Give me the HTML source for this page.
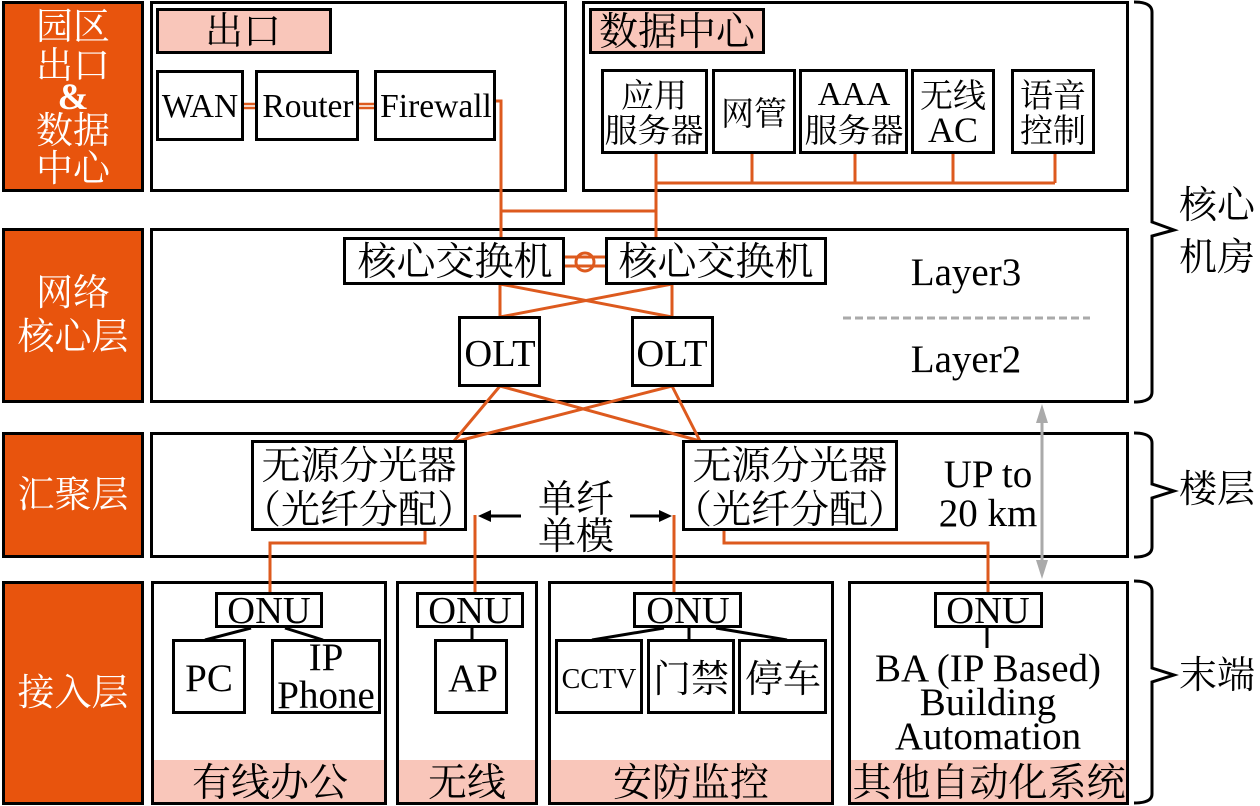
<!DOCTYPE html>
<html>
<head>
<meta charset="utf-8">
<style>
html,body{margin:0;padding:0;background:#fff;}
svg{display:block;}
text{font-family:"Liberation Serif","Noto Serif CJK SC",serif;text-anchor:middle;fill:#000;}
.w{fill:#fff;}
.b{fill:#fff;stroke:#000;stroke-width:3;}
.o{fill:#e8540d;stroke:#000;stroke-width:3;}
.p{fill:#f9c6ba;stroke:#000;stroke-width:3;}
.l{stroke:#dd5a1e;stroke-width:3;fill:none;}
.k{stroke:#000;stroke-width:3;fill:none;}
</style>
</head>
<body>
<svg width="1260" height="806" viewBox="0 0 1260 806" xmlns="http://www.w3.org/2000/svg">
<rect width="1260" height="806" fill="#fff"/>
<!-- left labels -->
<rect class="o" x="3.5" y="2.5" width="139" height="188"/>
<rect class="o" x="3.5" y="229.5" width="139" height="172"/>
<rect class="o" x="3.5" y="433.5" width="139" height="123"/>
<rect class="o" x="3.5" y="582.5" width="139" height="221"/>
<!-- panels -->
<rect class="b" x="151.5" y="2.5" width="414" height="188"/>
<rect class="b" x="583.5" y="2.5" width="544" height="188"/>
<rect class="b" x="151.5" y="229.5" width="976" height="172"/>
<rect class="b" x="151.5" y="433.5" width="976" height="123"/>
<rect class="b" x="152.5" y="582.5" width="233" height="221"/>
<rect class="b" x="397.5" y="582.5" width="139" height="221"/>
<rect class="b" x="549.5" y="582.5" width="283" height="221"/>
<rect class="b" x="849.5" y="582.5" width="278" height="221"/>
<!-- pink strips -->
<rect x="154" y="760" width="230" height="42" fill="#f9c6ba"/>
<rect x="399" y="760" width="136" height="42" fill="#f9c6ba"/>
<rect x="551" y="760" width="280" height="42" fill="#f9c6ba"/>
<rect x="851" y="760" width="275" height="42" fill="#f9c6ba"/>
<!-- orange connectors -->
<path class="l" d="M495 101H501V238M501 211H656M656 153V238M656 183H1055M752 153V183M855 153V183M953 153V183M1055 153V183"/>
<path class="l" d="M243 104H256M243 108H256M358 104H375M358 108H375" style="stroke-width:2.5"/>
<path class="l" d="M564 257H606M564 266H606"/>
<circle class="l" cx="585" cy="262" r="9"/>
<path class="l" d="M500 284V317M672 284V317M500 284L672 317M672 284L500 317"/>
<path class="l" d="M500 386L454 441M500 386L700 441M672 386L458 441M672 386L700 441"/>
<path class="l" d="M425 530V543H270V593M475 515V593M674 515V593M724 530V543H988V593"/>
<!-- grey -->
<line x1="843" y1="318" x2="1090" y2="318" stroke="#aaa" stroke-width="3" stroke-dasharray="8 4"/>
<line x1="1042" y1="415" x2="1042" y2="570" stroke="#aaa" stroke-width="3"/>
<polygon points="1042,404 1048,423 1036,423" fill="#aaa"/>
<polygon points="1042,579 1048,560 1036,560" fill="#aaa"/>
<!-- black arrows -->
<path class="k" d="M521 516H486M630 516H664"/>
<polygon points="478,516 491,510 491,522" fill="#000"/>
<polygon points="672,516 659,510 659,522" fill="#000"/>
<!-- ONU connectors -->
<path class="k" d="M251 628L205 640M285 628L323 640M472 627V640M664 628L592 640M689 627V640M716 628L787 640M987 627V648"/>
<!-- braces -->
<path class="k" d="M1134 2Q1152 2 1152 12V222L1174 230L1152 236V392Q1152 402 1134 402"/>
<path class="k" d="M1134 433Q1152 433 1152 443V484L1174 491L1152 498V547Q1152 557 1134 557"/>
<path class="k" d="M1134 581Q1152 581 1152 591V668L1174 675L1152 682V794Q1152 803 1134 803"/>
<!-- boxes -->
<rect class="p" x="157.5" y="9.5" width="173" height="43"/>
<rect class="p" x="590.5" y="9.5" width="173" height="43"/>
<rect class="b" x="157.5" y="71.5" width="85" height="68"/>
<rect class="b" x="256.5" y="71.5" width="101" height="68"/>
<rect class="b" x="375.5" y="71.5" width="119" height="68"/>
<rect class="b" x="602.5" y="70.5" width="104" height="82"/>
<rect class="b" x="713.5" y="70.5" width="81" height="82"/>
<rect class="b" x="800.5" y="70.5" width="106" height="82"/>
<rect class="b" x="912.5" y="70.5" width="81" height="82"/>
<rect class="b" x="1012.5" y="70.5" width="81" height="82"/>
<rect class="b" x="344.5" y="238.5" width="219" height="45"/>
<rect class="b" x="606.5" y="238.5" width="219" height="45"/>
<rect class="b" x="459.5" y="317.5" width="80" height="68"/>
<rect class="b" x="632.5" y="317.5" width="80" height="68"/>
<rect class="b" x="252.5" y="441.5" width="213" height="88"/>
<rect class="b" x="683.5" y="441.5" width="213" height="88"/>
<rect class="b" x="216.5" y="593.5" width="105" height="33"/>
<rect class="b" x="417.5" y="593.5" width="105" height="33"/>
<rect class="b" x="634.5" y="593.5" width="106" height="33"/>
<rect class="b" x="935.5" y="593.5" width="106" height="33"/>
<rect class="b" x="173.5" y="640.5" width="71" height="72"/>
<rect class="b" x="272.5" y="640.5" width="107" height="72"/>
<rect class="b" x="435.5" y="640.5" width="71" height="72"/>
<rect class="b" x="556.5" y="640.5" width="85" height="72"/>
<rect class="b" x="648.5" y="640.5" width="85" height="72"/>
<rect class="b" x="739.5" y="640.5" width="86" height="72"/>
<!-- left label text -->
<g font-size="37">
<text class="w" x="73" y="39">园区</text>
<text class="w" x="73" y="78">出口</text>
<text class="w" x="73" y="109" font-weight="bold">&amp;</text>
<text class="w" x="73" y="143">数据</text>
<text class="w" x="73" y="181">中心</text>
<text class="w" x="73" y="305">网络</text>
<text class="w" x="73" y="349">核心层</text>
<text class="w" x="73" y="507">汇聚层</text>
<text class="w" x="73" y="705">接入层</text>
</g>
<!-- CJK -->
<text x="243" y="44" font-size="38">出口</text>
<g font-size="39">
<text x="677" y="45">数据中心</text>
<text x="455" y="275">核心交换机</text>
<text x="716" y="275">核心交换机</text>
<text x="359" y="479">无源分光器</text>
<text x="359" y="523">（光纤分配）</text>
<text x="790" y="479">无源分光器</text>
<text x="790" y="523">（光纤分配）</text>
<text x="270" y="796">有线办公</text>
<text x="467" y="796">无线</text>
<text x="691" y="796">安防监控</text>
<text x="989" y="796">其他自动化系统</text>
</g>
<g font-size="33">
<text x="654" y="107">应用</text>
<text x="654" y="142">服务器</text>
<text x="754" y="125">网管</text>
<text x="854" y="142">服务器</text>
<text x="953" y="107">无线</text>
<text x="1053" y="107">语音</text>
<text x="1053" y="142">控制</text>
</g>
<g font-size="38">
<text x="691" y="692">门禁</text>
<text x="783" y="692">停车</text>
<text x="576" y="512">单纤</text>
<text x="576" y="549">单模</text>
<text x="1217" y="218">核心</text>
<text x="1217" y="270">机房</text>
<text x="1217" y="502">楼层</text>
<text x="1217" y="688">末端</text>
</g>
<!-- Latin -->
<g font-size="33.5">
<text x="200" y="117">WAN</text>
<text x="308" y="117">Router</text>
<text x="436" y="117">Firewall</text>
<text x="854" y="105">AAA</text>
</g>
<text x="953" y="142" font-size="36">AC</text>
<g font-size="38.5">
<text x="500" y="366">OLT</text>
<text x="672" y="366">OLT</text>
<text x="269" y="623">ONU</text>
<text x="470" y="623">ONU</text>
<text x="688" y="623">ONU</text>
<text x="988" y="623">ONU</text>
</g>
<g font-size="39">
<text x="966" y="285">Layer3</text>
<text x="966" y="372">Layer2</text>
<text x="988" y="487">UP to</text>
<text x="988" y="526">20 km</text>
<text x="209" y="691">PC</text>
<text x="326" y="670">IP</text>
<text x="326" y="708">Phone</text>
<text x="473" y="691">AP</text>
<text x="988" y="681">BA (IP Based)</text>
<text x="988" y="715">Building</text>
<text x="988" y="749">Automation</text>
</g>
<text x="599" y="688" font-size="28">CCTV</text>
</svg>
</body>
</html>
